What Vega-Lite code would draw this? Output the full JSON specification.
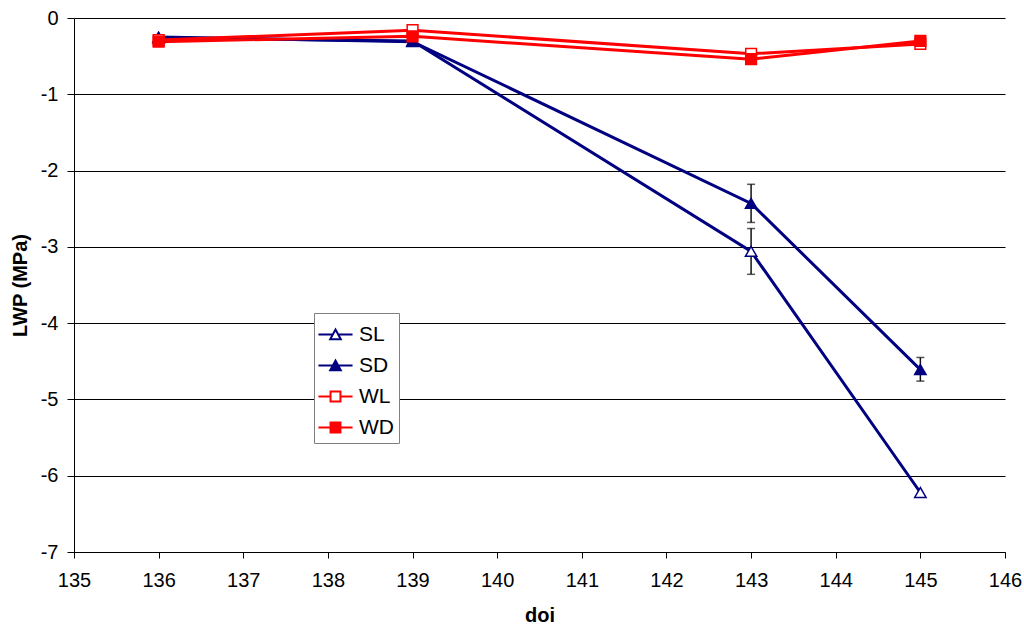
{
  "$schema": "https://vega.github.io/schema/vega-lite/v6.json",
  "width": 931,
  "height": 534,
  "autosize": {"type": "none"},
  "padding": {"left": 74, "top": 18, "right": 19, "bottom": 74},
  "background": "white",
  "config": {
    "view": {"stroke": null},
    "font": "Liberation Sans",
    "axis": {
      "domainColor": "black",
      "tickColor": "black",
      "labelColor": "black",
      "titleColor": "black",
      "labelFontSize": 20,
      "titleFontSize": 20,
      "titleFontWeight": "bold",
      "labelFont": "Liberation Sans",
      "titleFont": "Liberation Sans"
    },
    "legend": {
      "orient": "none",
      "legendX": 240,
      "legendY": 295,
      "padding": 5,
      "strokeColor": "#808080",
      "fillColor": "white",
      "symbolSize": 961,
      "symbolStrokeWidth": 2,
      "labelFontSize": 21,
      "labelFont": "Liberation Sans",
      "labelColor": "black",
      "labelOffset": 7,
      "rowPadding": 4
    }
  },
  "data": {
    "values": [
      {"doi": 136, "series": "SL", "lwp": -0.26},
      {"doi": 139, "series": "SL", "lwp": -0.30},
      {"doi": 143, "series": "SL", "lwp": -3.06, "lo": -3.36, "hi": -2.76},
      {"doi": 145, "series": "SL", "lwp": -6.22},
      {"doi": 136, "series": "SD", "lwp": -0.25},
      {"doi": 139, "series": "SD", "lwp": -0.31},
      {"doi": 143, "series": "SD", "lwp": -2.43, "lo": -2.68, "hi": -2.18},
      {"doi": 145, "series": "SD", "lwp": -4.61, "lo": -4.76, "hi": -4.45},
      {"doi": 136, "series": "WL", "lwp": -0.29},
      {"doi": 139, "series": "WL", "lwp": -0.16},
      {"doi": 143, "series": "WL", "lwp": -0.47},
      {"doi": 145, "series": "WL", "lwp": -0.34},
      {"doi": 136, "series": "WD", "lwp": -0.31},
      {"doi": 139, "series": "WD", "lwp": -0.24},
      {"doi": 143, "series": "WD", "lwp": -0.54},
      {"doi": 145, "series": "WD", "lwp": -0.30}
    ]
  },
  "encoding": {
    "x": {
      "field": "doi",
      "type": "quantitative",
      "scale": {"domain": [135, 146], "nice": false, "zero": false},
      "axis": {
        "title": "doi",
        "values": [135, 136, 137, 138, 139, 140, 141, 142, 143, 144, 145, 146],
        "grid": false,
        "tickSize": 6,
        "labelPadding": 12,
        "titlePadding": 15,
        "labelFlush": false,
        "labelExpr": "'' + datum.value"
      }
    },
    "y": {
      "field": "lwp",
      "type": "quantitative",
      "scale": {"domain": [-7, 0], "nice": false, "zero": false},
      "axis": {
        "title": "LWP (MPa)",
        "values": [-7, -6, -5, -4, -3, -2, -1, 0],
        "grid": true,
        "gridColor": "black",
        "gridWidth": 1,
        "gridOpacity": 1,
        "tickSize": 7,
        "labelPadding": 9,
        "titlePadding": 10,
        "labelFlush": false,
        "labelExpr": "'' + datum.value"
      }
    }
  },
  "layer": [
    {
      "transform": [{"filter": "isValid(datum.lo)"}],
      "mark": {"type": "rule", "color": "#111111", "strokeWidth": 1.5},
      "encoding": {"y": {"field": "lo", "type": "quantitative"}, "y2": {"field": "hi"}}
    },
    {
      "transform": [{"filter": "isValid(datum.lo)"}],
      "mark": {"type": "tick", "orient": "horizontal", "color": "#111111", "size": 8, "thickness": 1.5},
      "encoding": {"y": {"field": "lo", "type": "quantitative"}}
    },
    {
      "transform": [{"filter": "isValid(datum.lo)"}],
      "mark": {"type": "tick", "orient": "horizontal", "color": "#111111", "size": 8, "thickness": 1.5},
      "encoding": {"y": {"field": "hi", "type": "quantitative"}}
    },
    {
      "mark": {"type": "line", "strokeWidth": 3},
      "encoding": {
        "stroke": {
          "field": "series",
          "type": "nominal",
          "scale": {"domain": ["SL", "SD", "WL", "WD"], "range": ["#000080", "#000080", "#FF0000", "#FF0000"]},
          "title": null
        },
        "detail": {"field": "series"}
      }
    },
    {
      "transform": [{"filter": "datum.series == 'SL' || datum.series == 'SD'"}],
      "mark": {"type": "point", "shape": "triangle-up", "size": 130, "strokeWidth": 1.5, "opacity": 1},
      "encoding": {
        "stroke": {"field": "series", "type": "nominal", "title": null},
        "fill": {
          "field": "series",
          "type": "nominal",
          "scale": {"domain": ["SL", "SD", "WL", "WD"], "range": ["white", "#000080", "white", "#FF0000"]},
          "title": null
        }
      }
    },
    {
      "transform": [{"filter": "datum.series == 'WL' || datum.series == 'WD'"}],
      "mark": {"type": "point", "shape": "square", "size": 115, "strokeWidth": 1.5, "opacity": 1},
      "encoding": {
        "stroke": {"field": "series", "type": "nominal", "title": null},
        "fill": {"field": "series", "type": "nominal", "title": null}
      }
    },
    {
      "mark": {"type": "point", "strokeWidth": 2, "opacity": 1, "size": 0},
      "encoding": {
        "shape": {
          "field": "series",
          "type": "nominal",
          "title": null,
          "scale": {
            "domain": ["SL", "SD", "WL", "WD"],
            "range": [
              "M-1.1,0H-0.18M0.18,0H1.1M0,-0.32L0.34,0.3L-0.34,0.3Z",
              "M-1.1,0H-0.18M0.18,0H1.1M0,-0.32L0.34,0.3L-0.34,0.3Z",
              "M-1.1,0H-0.32M0.32,0H1.1M-0.32,-0.32H0.32V0.32H-0.32Z",
              "M-1.1,0H-0.32M0.32,0H1.1M-0.32,-0.32H0.32V0.32H-0.32Z"
            ]
          },
          "legend": {
            "title": null,
            "encode": {
              "symbols": {
                "update": {
                  "fill": {"scale": "fill", "field": "value"},
                  "stroke": {"scale": "stroke", "field": "value"},
                  "opacity": {"value": 1}
                }
              }
            }
          }
        },
        "stroke": {"field": "series", "type": "nominal", "title": null},
        "fill": {"field": "series", "type": "nominal", "title": null}
      }
    }
  ]
}
